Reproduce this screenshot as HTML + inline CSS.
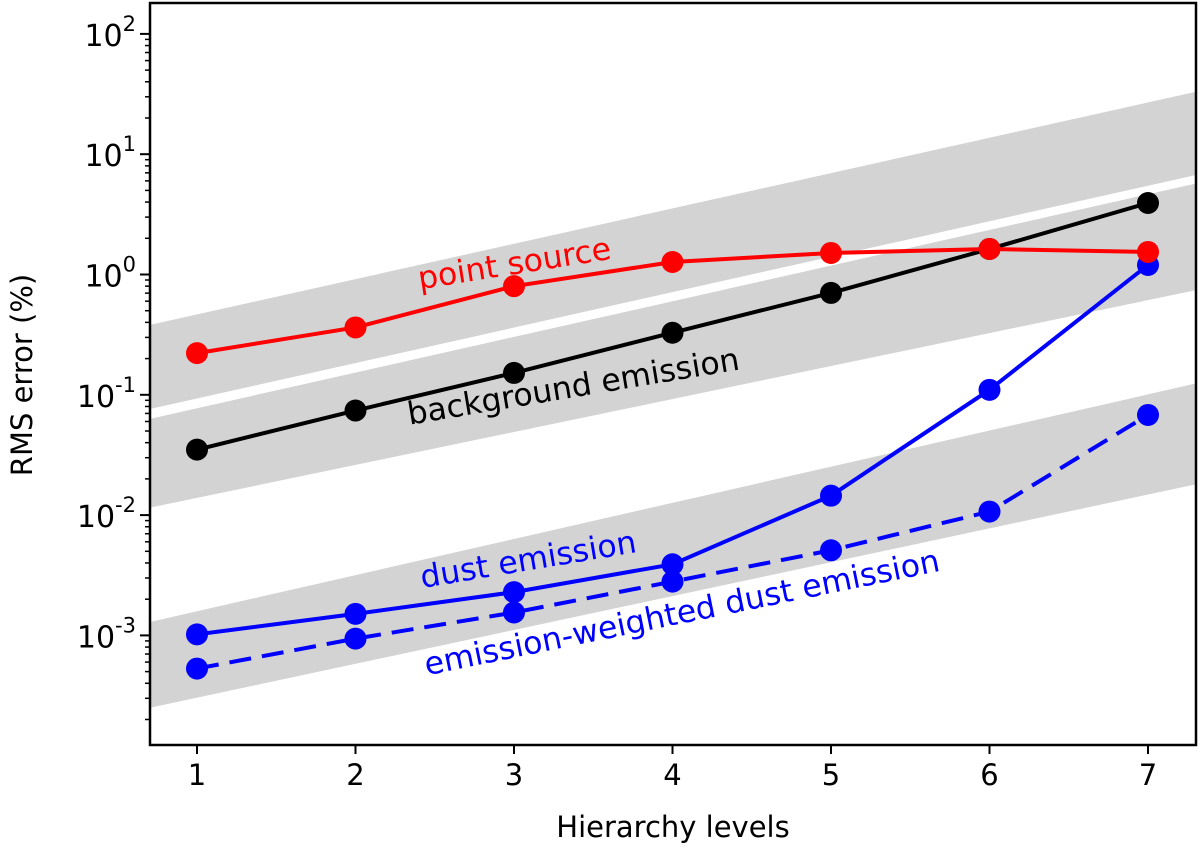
<!DOCTYPE html>
<html><head><meta charset="utf-8"><style>
body{margin:0;background:#fff}
svg text{font-family:"DejaVu Sans","Liberation Sans",sans-serif}
</style></head><body>
<svg id="c" width="1200" height="848"></svg>
<script>
const levels=[1,2,3,4,5,6,7];
const pointSource=[0.222,0.363,0.80,1.27,1.51,1.63,1.54];
const background=[0.035,0.074,0.152,0.328,0.703,1.63,3.93];
const dust=[0.00102,0.00151,0.00229,0.0039,0.0145,0.11,1.2];
const dustWeighted=[0.00053,0.00094,0.00155,0.0028,0.0051,0.0107,0.068];
const bandX=[0.7,7.3];
const band1Top=[0.38,33],band1Bot=[0.076,6.7];
const band2Top=[0.063,5.7],band2Bot=[0.0115,0.74];
const band3Top=[0.00129,0.124],band3Bot=[0.00025,0.018];
const yTicks=[-3,-2,-1,0,1,2];
const NS="http://www.w3.org/2000/svg";
const svg=document.getElementById('c');
const L=150,R=1196,T=3,B=745;
const x=v=>197+(v-1)*158.5;
const y=v=>274.5-Math.log10(v)*120.3;
function mk(t,a,p){const e=document.createElementNS(NS,t);for(const k in a)e.setAttribute(k,a[k]);(p||svg).appendChild(e);return e;}
const clip=mk('clipPath',{id:'cp'});mk('rect',{x:L,y:T,width:R-L,height:B-T},clip);
const g=mk('g',{'clip-path':'url(#cp)'});
[[band1Top,band1Bot,'band-point-source'],[band2Top,band2Bot,'band-background'],[band3Top,band3Bot,'band-dust']].forEach(([tp,bt,n])=>{
 const p=mk('polygon',{points:`${x(bandX[0])},${y(tp[0])} ${x(bandX[1])},${y(tp[1])} ${x(bandX[1])},${y(bt[1])} ${x(bandX[0])},${y(bt[0])}`,fill:'#d3d3d3'},g);
 
 
});
function series(vals,color,name,dash){
 const pl=mk('polyline',{points:vals.map((v,i)=>x(levels[i])+','+y(v)).join(' '),fill:'none',stroke:color,'stroke-width':4,'stroke-dasharray':dash||''},g);
 
 
 vals.forEach((v,i)=>{const c=mk('circle',{cx:x(levels[i]),cy:y(v),r:11,fill:color},g);
 
 });
}
series(dustWeighted,'#0000ff','emission-weighted-dust','22,11');
series(dust,'#0000ff','dust-emission');
series(background,'#000','background-emission');
series(pointSource,'#ff0000','point-source');
const fr=mk('rect',{x:L,y:T,width:R-L,height:B-T,fill:'none',stroke:'#000','stroke-width':2.5});


levels.forEach(v=>{mk('line',{x1:x(v),x2:x(v),y1:B,y2:B+9,stroke:'#000','stroke-width':2});
 const t=mk('text',{x:x(v),y:B+40,'font-size':29,'text-anchor':'middle'});t.textContent=v;
 
 });
yTicks.forEach(e=>{mk('line',{x1:L-10,x2:L,y1:y(Math.pow(10,e)),y2:y(Math.pow(10,e)),stroke:'#000','stroke-width':2});
 for(let m=2;m<10;m++){const yy=y(m*Math.pow(10,e));if(yy>T&&yy<B)mk('line',{x1:L-5,x2:L,y1:yy,y2:yy,stroke:'#000','stroke-width':1.5});}
 const t=mk('text',{x:L-14,y:y(Math.pow(10,e))+12,'font-size':30,'text-anchor':'end'});
 t.innerHTML='10<tspan dy="-15" font-size="21">'+e+'</tspan>';
 
 });
for(let m=2;m<10;m++){const yy=y(m*1e-4);if(yy<B)mk('line',{x1:L-5,x2:L,y1:yy,y2:yy,stroke:'#000','stroke-width':1.5});}
const xt=mk('text',{x:673,y:837,'font-size':29,'text-anchor':'middle'});xt.textContent='Hierarchy levels';

const yt=mk('text',{x:0,y:0,'font-size':29,'text-anchor':'middle',transform:'translate(32,375) rotate(-90)'});yt.textContent='RMS error (%)';

[['point source','#ff0000',516,274,-9,'label-point-source'],['background emission','#000',575,397,-9.5,'label-background'],['dust emission','#0000ff',530,570,-9.5,'label-dust'],['emission-weighted dust emission','#0000ff',684,623,-11.5,'label-weighted-dust']].forEach(([s,c,cx,cy,r,n])=>{
 const t=mk('text',{x:cx,y:cy,fill:c,'font-size':31.5,'text-anchor':'middle',transform:`rotate(${r} ${cx} ${cy})`});t.textContent=s;
 });
</script>
</body></html>
